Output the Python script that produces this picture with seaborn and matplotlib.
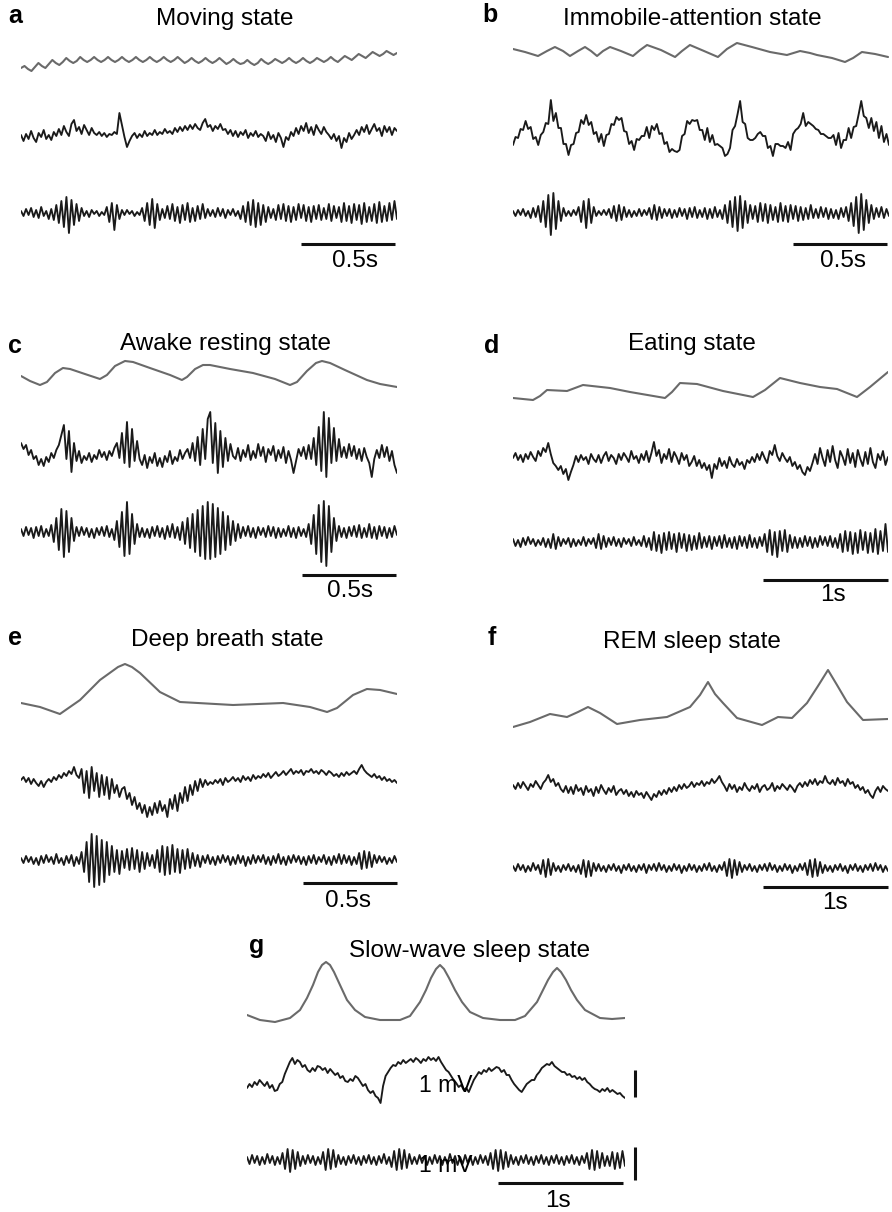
import numpy as np
import matplotlib
matplotlib.use("Agg")
import matplotlib.pyplot as plt
import seaborn as sns

# ---------------------------------------------------------------
# traces (offsets in screen px, up = positive)
# top row of each panel = respiration (grey), then LFP, then filtered
# ---------------------------------------------------------------

# a - Moving state
a_resp = [-8, -6, -9, -11, -7, -3, -6, -8, -4, 0, -3, -5, -2, 2, -1, -3, -1, 3, 0, -2,
          0, 3, 0, -2, 0, 3, 0, -2, 0, 3, 0, -2, 0, 3, 0, -2, 0, 3, 0, -2, 0, 3, 0, -2,
          0, 3, 0, -3, -1, 2, -1, -3, -1, 2, -1, -3, -1, 2, -1, -4, -2, 1, -2, -4,
          -3, 0, -3, -5, -3, 1, -2, -4, -2, 1, -1, -3, -1, 2, -1, -3, -1, 2, -1, -3,
          -1, 2, 0, -2, 0, 3, 0, -2, 1, 4, 2, 0, 3, 6, 4, 2, 5, 8, 6, 4, 6, 9, 7, 5, 7]
a_lfp = [-2, -8, -1, -6, 2, -5, -9, 0, -4, 3, -6, -2, -7, 1, -3,
         4, -2, 7, 1, -3, 9, 13, 2, 6, -1, 8, 3, -2, 5, 0,
         -2, 1, -3, 0, -4, -1, -2, 1, -1,
         20, 8, -4, -14, -8,
         -3, 0, -5, -1, -4, 2, -3, 0, -2, 3, -2, 1, -1, 4, 0, 2, -1,
         5, 1, 6, 2, 7, 3, 8, 4, 9, 5, 3, 10, 14, 6, 8, 2, 7, 4, 9, 3,
         4, -1, 3, -3, 2, -4, 1, -2, 3, -5, 0, -3, 2, -4, -1,
         -3, -8, 1, -6, -2, -9, 0, -5, -14, -4, -7, 1, -3,
         5, -1, 7, 2, 10, 0, 6, -2, 8, 3, -1, 6, 1, -2,
         -6, -1, -8, -3, -15, -5, -9, 0, -6, -2,
         3, -2, 6, 1, 8, -1, 4, 9, 2, 5, -3, 7, 1, 6, -2, 5, 2]
a_hf = [2, -3, 4, -2, 5, -4, 3, -5, 6, -3, 2, -6, 4,
        -7, 8, -10, 12, -14, 16, -20, 13, -12, 9, -8, 5,
        -3, 2, -4, 3, -1, 2, -3, 1, -2,
        6, -9, 10, -17, 8, -6, 3,
        -2, 3, -1, 2, -3, 1, -2,
        5, -8, 10, -12, 14, -15, 9, -7, 4,
        -5, 7, -6, 9, -8, 6, -10, 8, -7, 10, -9, 5, -8, 7, -6, 9, -5, 4, -3,
        3, -4, 5, -3, 4, -5, 3, -2, 4, -3, 2,
        -6, 7, -9, 11, -12, 13, -14, 10, -12, 8, -9, 6, -5, 4,
        -7, 8, -6, 9, -8, 7, -9, 6, -7, 9, -5, 8, -8, 6, -9, 7, -6, 8, -7, 5, -6, 9, -8, 7, -5,
        6, -9, 10, -8, 7, -10, 9, -7, 8, -11, 10, -9, 6, -8, 9, -10, 11, -9, 7, -8, 10, -7, 12, -6]

# b - Immobile-attention state
b_resp_t = [0.000, 0.064, 0.133, 0.181, 0.223, 0.266, 0.303, 0.346, 0.383, 0.415, 0.447,
            0.479, 0.516, 0.574, 0.638, 0.676, 0.713, 0.787, 0.862, 0.899, 0.941, 1.016,
            1.090, 1.138, 1.191, 1.271, 1.367, 1.457, 1.527, 1.580, 1.617, 1.697, 1.766,
            1.809, 1.856, 1.926, 1.995]
b_resp = [3, 0, -4, 1, 5, 1, -4, 1, 5, 1, -4, 1, 5, 1, -4, 2, 7, 2, -5, 1, 7, 1, -5, 3, 9,
          5, 0, -3, 1, -1, -3, -6, -10, -6, 0, -2, -5]
b_lfp = [-12, -4, -5, 4, 3, 12, 4, 6, -6, -4, -12, -2, 1, 10, 9,
         33, 12, 20, 5, 5, -11, -11, -22, -12, -11, 0, 1, 13, 9,
         18, 8, 11, -1, 1, -9, -1, -13, -2, -1, 9, 8, 16,
         13, 15, 2, 1, -11, -8, -17, -6, -7, -3, -3, 6, -5, 7, 3,
         9, -1, 0, -11, -9, -19, -16, -18, -19, -17, -3, -1, 12, 9, 13,
         12, 13, 3, 3, -7, 5, -9, -2, -12, -11, -13, -15, -23,
         -21, -15, 3, 7, 19, 32, 11, 9, -5, -7, -7, -5, -1, 1,
         -3, -3, -15, -13, -23, -11, -11, -13, -13, -15, -9,
         -17, -1, 3, 5, 9, 20, 7, 11, 9, 7, 4, 3,
         -1, -1, -3, -5, -5, -2, -12, 0, -15, -7, -7, 5, -5,
         6, 7, 19, 32, 17, 15, 5, 15, 2, 11, -5, 7, -9, -1, -12]
b_hf = [2, -3, 3, -2, 4, -3, 2, -5, 5, -4,
        7, -9, 12, -14, 18, -22, 20, -16, 12, -8, 5,
        -3, 2, -3, 3, -2,
        6, -9, 12, -15, 14, -10, 6,
        -3, 2, -2, 3, -2, 4,
        -5, 7, -8, 8, -7, 6, -4,
        3, -4, 2, -3, 4, -3, 3, -2,
        5, -6, 8, -7, 6, -5, 4,
        -3, 4, -5, 3, -4, 5, -3,
        4, -6, 5, -4, 6, -5, 3, -4,
        5, -6, 4, -5, 6, -4, 3,
        -6, 8, -10, 12, -14, 16, -18, 17, -15, 12, -10, 8, -6,
        7, -9, 10, -8, 9, -10, 8, -7, 6, -9, 10, -8, 7, -9, 8, -6, 7, -8, 6, -7, 5, -6, 8, -5,
        4, -5, 6, -4, 5, -6, 4, -5, 3, -6, 5, -4, 6,
        -8, 10, -13, 16, -20, 19, -17, 13, -10, 8, -6,
        5, -4, 6, -5, 4, -3]

# c - Awake resting state
c_resp_t = [0.000, 0.048, 0.101, 0.138, 0.181, 0.223, 0.261, 0.340, 0.420, 0.457, 0.500,
            0.553, 0.596, 0.686, 0.793, 0.856, 0.883, 0.926, 0.968, 1.005, 1.112, 1.234,
            1.351, 1.431, 1.468, 1.521, 1.569, 1.601, 1.644, 1.723, 1.840, 1.910, 2.000]
c_resp = [-3, -8, -12, -9, 0, 5, 4, -1, -6, -2, 7, 12, 11, 5, -2, -7, -4, 4, 8, 8, 4, 0,
          -6, -12, -9, 2, 10, 12, 10, 3, -7, -11, -14]
c_lfp = [10, 4, 8, -2, 3, -6, -3, -12, -6, -13,
         -4, -9, 0, -5, 3,
         8, 18, 28, -6, 22, -19, 10,
         -8, 2, -10, -3, -7, 0, -9,
         -2, -6, 3, -4, 1, -7, 2, -3, 5,
         10, -5, 20, -10, 31, -14, 24, -8, 12,
         -6, -12, -2, -15, -4, -10, 0, -13, -5, -14, -3, -9, 2, -11, -4, -8, 3, -6, 0,
         4, -5, 10, -8, 16, -12, 24, -6, 34, 41, -10, 30, -20, 22, -14, 15, -8, 9, -3,
         -6, 5, -8, 3, -4, 8, -7, 2, -5, 9, -3, 6, -9, 4, -2, 7, -8, 3, -5, 6, -10, 2, -7,
         -20, -8, 4, -3, 6, -6,
         8, -6, 15, -12, 26, -18, 41, -24, 35, -10, 25, -8, 14, -4,
         6, -5, 9, -3, 7, -6, 4, -8, 5, -4, -10, -24, -6, 3, -5, 8, -4, 6, -8, 2, -12, -20]
c_hf = [3, -4, 5, -3, 4, -6, 5, -4, 6, -5, 3, -4,
        7, -10, 14, -18, 23, -25, 21, -20, 14, -9, 5,
        -4, 5, -3, 4, -5, 3, -6, 4, -3, 5, -4, 6, -5, 3,
        -8, 11, -15, 20, -24, 30, -22, 18, -12, 8, -5,
        4, -5, 3, -6, 5, -4, 6, -5, 4, -7, 6, -5, 8, -6, 5,
        -8, 10, -12, 14, -16, 18, -20, 22, -24, 26, -27, 30, -27, 28, -25, 24, -22, 20, -18,
        16, -13, 11, -9, 8, -6, 5,
        -4, 6, -5, 4, -6, 5, -3, 4, -5, 6, -4, 5, -6, 4, -5, 3, -4, 6, -5, 4, -6, 5, -4, 3, -5,
        8, -12, 17, -22, 27, -30, 31, -34, 26, -20, 14, -9, 6,
        -5, 4, -6, 5, -4, 6, -5, 7, -6, 4, -5, 8, -6, 5, -7, 6, -4, 5, -6, 4, -5, 6, -3]

# d - Eating state
d_resp_t = [0.000, 0.160, 0.216, 0.272, 0.432, 0.560, 0.776, 0.936, 1.216, 1.272, 1.336,
            1.472, 1.680, 1.920, 2.016, 2.136, 2.296, 2.456, 2.592, 2.752, 2.856, 3.000]
d_resp = [-10, -12, -8, -2, -3, 3, 0, -4, -10, -4, 5, 4, -3, -9, -2, 10, 5, 1, -1, -9, 1, 16]
d_lfp = [2, 7, 0, 5, -2, 6, 1, 8, 3, -1, 9, 4, 12, 8, 17,
         6, -3, -6, -10, -6, -14, -9, -20, -12, -5,
         4, -2, 5, 0, 3, -4, 6, 1, -2, 5, -3, 4, 8, -1, 5, 2, -4, 6, 0, 7, 3, -2, 9, 1, 4, -3,
         6, 0, 9, -2, 7, 18, 4, 10, -3, 6, 1, 11, -2, 8, 3, -4, 7, 0, 5, -6,
         -2, 4, -6, 0, -8, -3, -10, -5, -18, -4, -9, 2, -6, -1, -8, 3, -4, -7, 1, -5, -2, -9, 0, -3,
         3, -2, 6, 0, 8, 2, -3, 9, 5, 15, 4, -1, 7, 2, -2, 3,
         -6, -2, -9, -5, -12, -15, -7, -11, -3,
         6, -4, 12, 2, -6, 10, -2, 14, 0, -8, 9, 3, -5, 11, -3, 7, -7, 10, 1, -6, 8, -4, 12, -2,
         -8, 6, 0, 9, -5, 3]
d_hf = [3, -4, 2, -5, 4, -3, 5, -2, 3, -4, 2, -3, 4, -5, 3,
        -6, 8, -7, 5, -4,
        3, -2, 4, -5, 3, -4, 2, -3, 5, -4, 3, -2, 4,
        -6, 8, -7, 6, -5,
        4, -3, 5, -4, 3, -5, 4, -2, 3, -4, 5, -3, 2, -4, 6, -5, 4,
        -8, 10, -9, 7, -11, 9, -8, 10, -7, 8, -10, 9, -6, 8, -9, 7, -8, 6, -7, 9, -6, 5,
        -5, 6, -7, 5, -4, 6, -6, 7, -5, 4, -6, 5, -7, 6, -4, 5, -6, 7, -5, 4, -6, 5, -4,
        8, -10, 12, -13, 10, -15, 11, -9, 12, -10, 7, -6,
        5, -6, 4, -5, 6, -4, 5, -6, 4, -5, 6, -3, 5, -4, 6, -5, 4, -6,
        8, -10, 11, -9, 10, -12, 9, -11, 12, -8, 10, -11, 9, -10, 13, -12, 11, -9, 18, -10]

# e - Deep breath state
e_resp_t = [0.000, 0.101, 0.207, 0.314, 0.420, 0.516, 0.553, 0.590, 0.633, 0.739, 0.846,
            1.128, 1.394, 1.537, 1.628, 1.681, 1.766, 1.840, 1.910, 2.000]
e_resp = [-13, -17, -24, -10, 10, 23, 26, 23, 17, -2, -12, -15, -13, -17, -22, -18, -5, 1, 0, -4]
e_lfp = [3, 6, 1, 5, -1, 4, 0, -3, 2, -4, 1,
         4, 1, 6, 3, 8, 5, 10, 7, 12, 9, 16, 8, 5,
         14, -10, 12, -15, 16, -8, 10, -14, 8, -12, 6, -16, 4, -10, -2, -14, -6,
         -4, -16, -10, -22, -14, -26, -20, -30, -22, -34,
         -24, -32, -20, -30, -18, -28, -22,
         -34, -16, -26, -12, -28, -10, -20, -4, -18, -2, -12, 2, -8, 4, -4, 3, -2, 1,
         -1, 3, 0, 4, -2, 5, 1, 3, 6, 2, 5, 1, 7, 3, 6, 2, 8, 4, 7, 5, 9, 6, 10, 5, 8, 11, 7, 9,
         12, 8, 11, 14, 9, 12, 10, 13, 8, 12, 11, 14, 10, 12, 9, 13, 11, 8, 12, 10, 7,
         9, 6, 10, 7, 11, 8, 10, 12, 9, 14, 18, 13, 10, 8, 6, 9, 5, 7, 3, 6, 2, 4, 1, 3, 0]
e_hf = [2, -3, 4, -2, 3, -4, 2, -5, 4, -3, 5, -2, 3, -4, 6, -3, 2, -5, 4, -3, 5, -6, 3, -4,
        8, -12, 18, -22, 26, -27, 24, -25, 20, -22, 18, -15, 14, -12, 10, -14, 9,
        -8, 11, -10, 12, -9, 10, -12, 8, -9, 7, -6, 5,
        -8, 10, -12, 14, -15, 13, -14, 15, -12, 11, -13, 10, -9, 11, -8, 7, -6, 5, -7, 4,
        -3, 5, -4, 3, -5, 4, -3, 5, -2, 4, -5, 3, -4, 5, -3, 4, -6, 3, -4, 5,
        -3, 4, -2, 5, -4, 3, -5, 4, -3, 6, -4, 3, -5, 4, -3, 5, -2, 4, -4, 3,
        -5, 4, -3, 5, -4, 3, -2, 5, -4, 3, -5, 4, -3, 6, -4, 5, -3, 4, -5, 3, -4,
        7, -9, 9, -8, 8, -7, 5,
        -3, 4, -2, 3, -4, 2, -3, 4, -2]

# f - REM sleep state
f_resp_t = [0.000, 0.136, 0.296, 0.432, 0.520, 0.600, 0.696, 0.832, 1.016, 1.232, 1.416,
            1.496, 1.560, 1.616, 1.680, 1.792, 1.992, 2.120, 2.232, 2.352, 2.440, 2.520,
            2.592, 2.672, 2.800, 3.000]
f_resp = [-27, -22, -14, -17, -12, -7, -13, -24, -20, -17, -7, 5, 18, 6, -3, -18, -25, -17,
          -18, -3, 14, 30, 15, -2, -20, -19]
f_lfp = [3, -1, 5, 0, 6, 2, -2, 4, 1, 7, 3, -1, 5, 8, 13, 6, 9, 2, 5, -1,
         -4, 2, -5, 1, -6, 3, -3, 0, -7, 2, -4, -1, -8, 1, -5, 3, -2, -6, 0, -4, 2, -7, -3, -1,
         -6, -2, -8, -4, -9, -3, -7, -5, -10, -4, -8, -12, -6, -9, -3, -7,
         -2, -6, 0, -4, 1, -3, 3, -1, 4, 0, 2, 6, 1, 5, 3, 7, 2, 6, 4, 9, 5, 8, 12, 6,
         2, -3, 4, -1, 3, -4, 1, -2, 5, 0, -3, 2, -1, 4, -4, 1, 3, -2, 0, 5, -3, 2, -1, 4, 1, -2,
         3, 0, -4, 2, 5, 1,
         6, 2, 8, 4, 9, 3, 7, 5, 12, 6, 4, 8, 3, 10, 5, 7, 2, 9, 4, 6,
         0, 3, -2, 1, -5, -2, -7, -10, -3, 1, -4, 2, -1, -3]
f_hf = [2, -3, 4, -2, 3, -4, 2, -3, 5, -2, 3,
        -6, 8, -9, 9, -7, 5, -3,
        2, -4, 3, -2, 4, -3, 2, -4, 3,
        -6, 8, -9, 7, -8, 5, -3,
        4, -3, 2, -4, 3, -2, 4, -3, 2, -5, 3, -2, 4, -3, 2, -4, 3, -2, 4, -5,
        3, -2, 4, -3, 5, -2, 3, -4, 2, -3, 4, -2, 3, -5, 2, -3, 4, -2, 3, -4,
        2, -3, 4, -2, 5, -3, 2, -4, 3, -2,
        6, -8, 9, -10, 8, -7, 6, -4,
        3, -2, 4, -3, 2, -4, 3, -2, 4, -3, 5, -2, 3, -4, 2, -3, 4, -2, 3, -5, 2, -3, 4, -2,
        5, -7, 8, -9, 9, -8, 6, -5, 3,
        -3, 2, -4, 3, -2, 4, -3, 2, -5, 3, -2, 4, -3, 2, -4, 3, -2, 4, -3, 5, -2, 3, -4, 2, -3]

# g - Slow-wave sleep state
g_resp_t = [0.000, 0.104, 0.224, 0.344, 0.424, 0.480, 0.528, 0.568, 0.600, 0.632, 0.664,
            0.696, 0.744, 0.800, 0.864, 0.944, 1.064, 1.224, 1.304, 1.384, 1.432, 1.472,
            1.512, 1.544, 1.576, 1.616, 1.664, 1.720, 1.784, 1.888, 2.024, 2.144, 2.224,
            2.320, 2.368, 2.408, 2.448, 2.480, 2.512, 2.552, 2.592, 2.640, 2.704, 2.824,
            2.920, 3.024]
g_resp = [-23, -28, -30, -26, -18, -6, 7, 20, 27, 30, 27, 20, 7, -8, -18, -25, -28, -28,
          -24, -10, 2, 14, 23, 27, 23, 14, 2, -10, -20, -26, -28, -28, -24, -10, 2, 12, 20,
          24, 20, 12, 2, -8, -18, -26, -27, -26]
g_lfp = [-10, -6, -9, -4, -7, -2, -5, -8, -4, -10, -7, -13, -12,
         -6, -4, 4, 10, 16, 20, 14, 18, 16, 11, 13, 8, 6,
         10, 7, 12, 11, 8, 10, 5, 9, 6, 3, 5, 0, 2, -3, -4, -1, -3, 2, 0,
         -4, -8, -6, -12, -15, -13, -18, -20, -25, -8, 2, 6, 10, 13, 12, 16,
         14, 18, 15, 17, 19, 16, 20, 18, 15, 19, 17, 21, 18, 20, 17, 21,
         16, 12, 8, 6, 2, -2, -5, -9, -7, -12, -10, -14,
         -8, -2, 2, 6, 4, 8, 6, 10, 7, 9, 11, 10,
         6, 8, 3, 3, -2, -6, -9, -12, -14,
         -10, -6, -4, -2, -2, 3, 6, 10, 12, 14, 13, 16,
         12, 10, 8, 6, 6, 3, 4, 1, 2, -1, 1, -2, 0,
         -4, -6, -9, -11, -12, -14, -11, -13, -10, -14, -12, -14, -16, -15, -18, -20]
g_hf = [3, -4, 5, -3, 4, -5, 3, -4, 6, -3, 4, -5, 3, -4,
        7, -9, 11, -12, 10, -9, 8, -6, 4,
        -4, 5, -3, 4, -5, 3, -4,
        8, -10, 11, -9, 10, -7, 5,
        -4, 3, -5, 4, -3, 5, -4, 3, -5, 4, -3, 5, -4, 3, -5, 4, -3, 6, -4, 3,
        -7, 9, -10, 11, -9, 10, -8, 6, -4,
        3, -4, 5, -3, 4, -5, 3, -4, 5, -3, 4, -5, 3, -4, 6, -3, 4, -5, 3, -4, 5, -3, 4, -5,
        3, -4, 5, -3, 4, -5,
        7, -9, 10, -11, 10, -9, 8, -7, 5,
        -4, 3, -5, 4, -3, 5, -4, 3, -5, 4, -3, 5, -4, 3, -5, 4, -3, 5, -4, 3, -5, 4, -3, 5,
        -4, 3, -5, 4, -3,
        7, -9, 10, -10, 9, -8, 7, -6, 4,
        -6, 8, -9, 7, -8, 9, -6]

titles = ["Moving state", "Immobile-attention state", "Awake resting state",
          "Eating state", "Deep breath state", "REM sleep state", "Slow-wave sleep state"]
letters = ["a", "b", "c", "d", "e", "f", "g"]
scale_labels = ["0.5s", "0.5s", "0.5s", "1s", "0.5s", "1s", "1s"]
scale_lengths = [0.5, 0.5, 0.5, 1.0, 0.5, 1.0, 1.0]
durations = [2.0, 2.0, 2.0, 3.0, 2.0, 3.0, 3.024]

# ---------------------------------------------------------------
# layout (pixels on the 892 x 1212 page)
# ---------------------------------------------------------------
W, H = 892, 1212
RESP_C, TRACE_C, BAR_C = "#6a6a6a", "#1a1a1a", "#111111"

panels = [
    # left, width, centres of 3 rows, letter xy, title xy, bar end / bar y / label xy
    dict(left=21, width=376, cy=(60, 133, 213), let=(15, 23), tit=(225, 25),
         bar_end=1.99, bar_y=31, lab=(355, 267)),
    dict(left=513, width=376, cy=(52, 133, 213), let=(490, 22), tit=(692, 25),
         bar_end=1.99, bar_y=31, lab=(843, 267)),
    dict(left=21, width=376, cy=(373, 453, 532), let=(15, 353), tit=(226, 350),
         bar_end=1.995, bar_y=43, lab=(350, 597)),
    dict(left=513, width=375, cy=(388, 460, 542), let=(492, 353), tit=(692, 350),
         bar_end=3.0, bar_y=38, lab=(833, 601)),
    dict(left=21, width=376, cy=(690, 783, 860), let=(15, 645), tit=(227, 646),
         bar_end=2.0, bar_y=23, lab=(348, 907)),
    dict(left=513, width=375, cy=(700, 788, 868), let=(492, 645), tit=(692, 648),
         bar_end=3.0, bar_y=19, lab=(835, 909)),
    dict(left=247, width=378, cy=(992, 1078, 1160), let=(257, 953), tit=(470, 957),
         bar_end=3.008, bar_y=23, lab=(558, 1207)),
]

traces = [
    (np.linspace(0, 2.0, len(a_resp)), a_resp, a_lfp, a_hf),
    (b_resp_t, b_resp, b_lfp, b_hf),
    (c_resp_t, c_resp, c_lfp, c_hf),
    (d_resp_t, d_resp, d_lfp, d_hf),
    (e_resp_t, e_resp, e_lfp, e_hf),
    (f_resp_t, f_resp, f_lfp, f_hf),
    (g_resp_t, g_resp, g_lfp, g_hf),
]

sns.set_theme(style="white")
plt.rcParams["font.family"] = ["Liberation Sans", "DejaVu Sans"]
plt.rcParams["text.color"] = "black"

fig = plt.figure(figsize=(W / 100, H / 100), dpi=100)
fig.patch.set_facecolor("white")


def ftext(x, y, s, **kw):
    fig.text(x / W, 1 - y / H, s, color="black", **kw)


def trace_axes(left, width, cy, dur, h=140):
    ax = fig.add_axes([left / W, 1 - (cy + h / 2) / H, width / W, h / H])
    ax.set_xlim(0, dur)
    ax.set_ylim(-h / 2, h / 2)
    ax.axis("off")
    return ax


for k, p in enumerate(panels):
    dur = durations[k]
    resp_t, resp, lfp, hf = traces[k]

    ax0 = trace_axes(p["left"], p["width"], p["cy"][0], dur)
    sns.lineplot(x=np.asarray(resp_t), y=resp, ax=ax0, color=RESP_C, linewidth=1.5,
                 estimator=None, sort=False)

    ax1 = trace_axes(p["left"], p["width"], p["cy"][1], dur)
    sns.lineplot(x=np.linspace(0, dur, len(lfp)), y=lfp, ax=ax1, color=TRACE_C,
                 linewidth=1.35, estimator=None, sort=False)

    ax2 = trace_axes(p["left"], p["width"], p["cy"][2], dur)
    sns.lineplot(x=np.linspace(0, dur, len(hf)), y=hf, ax=ax2, color=TRACE_C,
                 linewidth=1.35, estimator=None, sort=False)

    # time scale bar under the bottom trace
    ax2.plot([p["bar_end"] - scale_lengths[k], p["bar_end"]], [-p["bar_y"], -p["bar_y"]],
             color=BAR_C, linewidth=2.2, solid_capstyle="butt", clip_on=False)
    ftext(*p["lab"], scale_labels[k], ha="center", va="baseline", fontsize=17.5)

    ftext(*p["let"], letters[k], ha="center", va="baseline", fontsize=18, fontweight="bold")
    ftext(*p["tit"], titles[k], ha="center", va="baseline", fontsize=17.5)

    if k == 6:
        # 1 mV calibration bars for the two lower rows
        t_cal = 3.104
        ax1.plot([t_cal, t_cal], [8, -19], color=BAR_C, linewidth=2.2,
                 solid_capstyle="butt", clip_on=False)
        ax2.plot([t_cal, t_cal], [13, -20], color=BAR_C, linewidth=2.2,
                 solid_capstyle="butt", clip_on=False)
        ftext(446, 1092, "1 mV", ha="center", va="baseline", fontsize=16.5)
        ftext(446, 1172, "1 mV", ha="center", va="baseline", fontsize=16.5)

fig.savefig("out.png", dpi=100, facecolor="white")
